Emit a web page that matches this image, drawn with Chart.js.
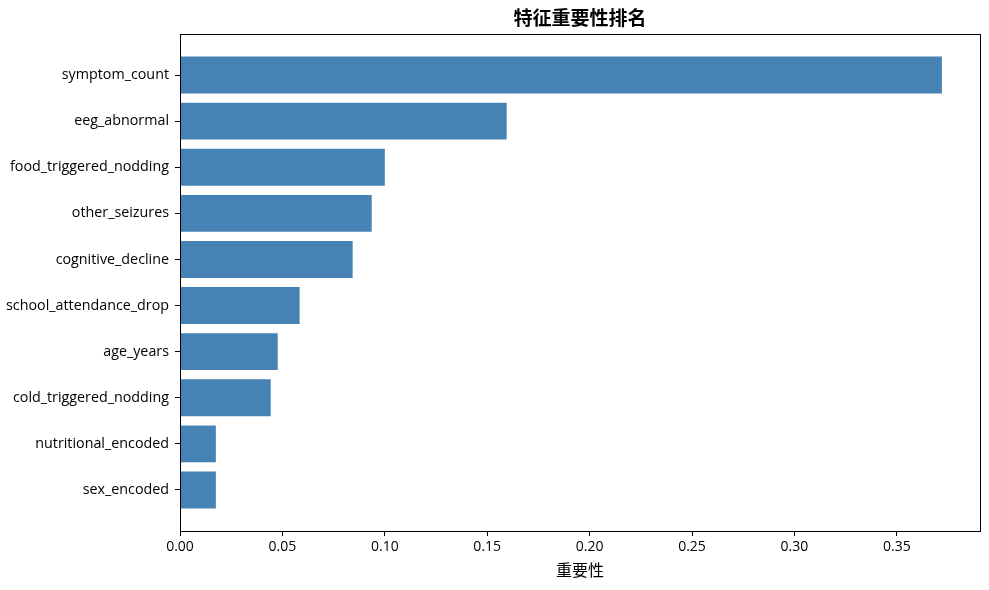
<!DOCTYPE html>
<html lang="zh">
<head>
  <meta charset="UTF-8" />
  <title>特征重要性排名</title>
  <script src="https://cdn.jsdelivr.net/npm/chart.js"></script>
  <style>
    html, body { margin: 0; padding: 0; background: #fff; }
    #wrap { width: 989px; height: 590px; }
  </style>
</head>
<body>
  <div id="wrap"><canvas id="chart"></canvas></div>

  <script>
    // feature names, top to bottom
    const features = [
      "symptom_count",
      "eeg_abnormal",
      "food_triggered_nodding",
      "other_seizures",
      "cognitive_decline",
      "school_attendance_drop",
      "age_years",
      "cold_triggered_nodding",
      "nutritional_encoded",
      "sex_encoded"
    ];
    const importance = [0.372, 0.1595, 0.1000, 0.0936, 0.0843, 0.0584, 0.0477, 0.0443, 0.0175, 0.0175];
    const xTicks = [0, 0.05, 0.10, 0.15, 0.20, 0.25, 0.30, 0.35];
    const chartTitle = "特征重要性排名";

    const font = "'Open Sans', 'Noto Sans CJK SC', sans-serif";
    const points = features.map((f, i) => ({ y: i, x: importance[i] }));

    // box round the plot (matplotlib spines) + title centred over the plot
    const frame = {
      id: "frame",
      afterDraw(chart) {
        const a = chart.chartArea, ctx = chart.ctx;
        ctx.save();
        ctx.strokeStyle = "#000";
        ctx.lineWidth = 1;
        ctx.strokeRect(Math.round(a.left) + 0.5, Math.round(a.top) + 0.5,
          Math.round(a.right - a.left), Math.round(a.bottom - a.top));
        ctx.fillStyle = "#000";
        ctx.font = "bold 19px " + font;
        ctx.textAlign = "center";
        ctx.textBaseline = "middle";
        ctx.fillText(chartTitle, (a.left + a.right) / 2, 20);
        ctx.restore();
      }
    };

    new Chart(document.getElementById("chart"), {
      type: "bar",
      data: {
        datasets: [{
          data: points,
          backgroundColor: "#4682B4",
          borderWidth: 0,
          barPercentage: 0.8,
          categoryPercentage: 1.0
        }]
      },
      options: {
        indexAxis: "y",
        responsive: true,
        maintainAspectRatio: false,
        animation: false,
        layout: { padding: { left: 0, right: 9, top: 34, bottom: 0 } },
        plugins: {
          legend: { display: false },
          tooltip: { enabled: false },
          title: { display: false }
        },
        scales: {
          x: {
            type: "linear",
            min: 0,
            max: importance[0] * 1.05,
            afterBuildTicks(scale) {
              scale.ticks = xTicks.map(v => ({ value: v }));
            },
            afterFit(scale) { scale.height = 59; },
            ticks: {
              color: "#000",
              font: { family: font, size: 14 },
              padding: 3,
              maxRotation: 0,
              callback: v => Number(v).toFixed(2)
            },
            grid: { drawOnChartArea: false, drawTicks: true, tickLength: 5, color: "#000" },
            border: { display: true, color: "#000" },
            title: {
              display: true,
              text: "重要性",
              color: "#000",
              font: { family: font, size: 16 },
              padding: { top: 2, bottom: 9 }
            }
          },
          y: {
            type: "linear",
            reverse: true,
            offset: false,
            min: -0.89,
            max: features.length - 1 + 0.89,
            afterBuildTicks(scale) {
              scale.ticks = features.map((f, i) => ({ value: i }));
            },
            afterFit(scale) { scale.width = 180; },
            ticks: {
              color: "#000",
              font: { family: font, size: 14.3 },
              padding: 6,
              autoSkip: false,
              callback: v => features[v]
            },
            grid: { offset: false, drawOnChartArea: false, drawTicks: true, tickLength: 5, color: "#000" },
            border: { display: true, color: "#000" }
          }
        }
      },
      plugins: [frame]
    });
  </script>
</body>
</html>
